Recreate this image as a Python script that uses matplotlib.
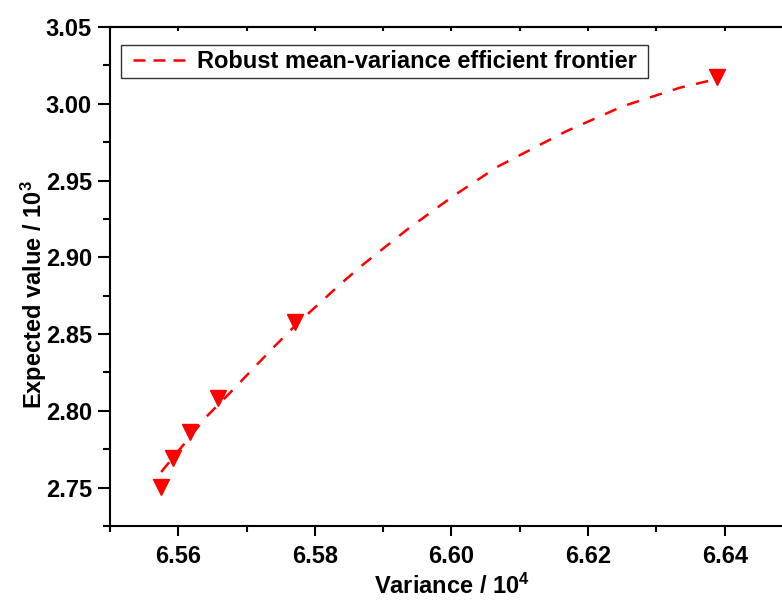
import matplotlib
matplotlib.use("Agg")
import matplotlib.pyplot as plt
from matplotlib.ticker import MultipleLocator
from matplotlib.lines import Line2D

plt.rcParams['font.family'] = ['Liberation Sans', 'DejaVu Sans']
plt.rcParams['mathtext.fontset'] = 'custom'
plt.rcParams['mathtext.bf'] = 'Liberation Sans:bold'
plt.rcParams['mathtext.rm'] = 'Liberation Sans:bold'
plt.rcParams['mathtext.default'] = 'bf'

# Marker data (variance / 1e4, expected value / 1e3)
variance = [6.5575, 6.5592, 6.5617, 6.5658, 6.5771, 6.6389]
expected = [2.7505, 2.7690, 2.7863, 2.8081, 2.8580, 3.0174]

# Fitted frontier curve
curve_x = [6.5575, 6.5641, 6.5675, 6.5738, 6.5772, 6.5836, 6.5870, 6.5936,
           6.6002, 6.6067, 6.6168, 6.6251, 6.6334, 6.6385]
curve_y = [2.7602, 2.7961, 2.8114, 2.8407, 2.8559, 2.8820, 2.8951, 2.9184,
           2.9397, 2.9589, 2.9821, 2.9984, 3.0104, 3.0158]

legend_label = "Robust mean-variance efficient frontier"
xticks = [6.56, 6.58, 6.60, 6.62, 6.64]
yticks = [2.75, 2.80, 2.85, 2.90, 2.95, 3.00, 3.05]

RED = '#ff0000'
FS = 17

fig = plt.figure(figsize=(7.82, 6.04), dpi=100)
ax = fig.add_axes([110/782, 78/604, 683/782, 499/604])

ax.plot(curve_x, curve_y, color=RED, lw=1.8, ls=(0, (5.0, 4.6)), zorder=2)
ax.plot(variance, expected, ls='none', marker='v', ms=11, color=RED,
        mec=RED, zorder=3)

ax.set_xlim(6.55, 6.65)
ax.set_ylim(2.725, 3.05)
ax.set_xticks(xticks)
ax.set_yticks(yticks)
ax.set_xticklabels([f"{v:.2f}" for v in xticks])
ax.set_yticklabels([f"{v:.2f}" for v in yticks])
ax.xaxis.set_minor_locator(MultipleLocator(0.01))
ax.yaxis.set_minor_locator(MultipleLocator(0.025))

for s in ax.spines.values():
    s.set_linewidth(1.5)

ax.xaxis.set_tick_params(which='major', bottom=True, top=False, direction='out',
                         length=7, width=1.5, labelsize=FS, pad=7)
ax.xaxis.set_tick_params(which='minor', bottom=True, top=False, direction='out',
                         length=4, width=1.5)
ax.yaxis.set_tick_params(which='major', left=True, right=False, direction='out',
                         length=9, width=1.5, labelsize=FS, pad=4)
ax.yaxis.set_tick_params(which='minor', left=True, right=False, direction='out',
                         length=5, width=1.5)

top = ax.secondary_xaxis('top')
top.set_xticks(xticks)
top.xaxis.set_minor_locator(MultipleLocator(0.01))
top.tick_params(which='both', direction='in', length=3, width=1.5, labeltop=False)
top.spines['top'].set_linewidth(1.5)

for lab in ax.get_xticklabels() + ax.get_yticklabels():
    lab.set_fontweight('bold')

ax.set_xlabel(r"Variance / 10$^{4}$", fontsize=FS, fontweight='bold', labelpad=4)
ax.set_ylabel(r"Expected value / 10$^{3}$", fontsize=FS, fontweight='bold')
ax.yaxis.set_label_coords(-0.090, 0.463)

handle = Line2D([], [], color=RED, lw=1.8, ls=(5.2, (4.8, 3.2)))
leg = ax.legend(handles=[handle], labels=[legend_label], loc='upper left',
                bbox_to_anchor=(11/683, 0, 527/683, 1 - 18/499), mode='expand',
                frameon=True, fancybox=False, edgecolor='black',
                handlelength=2.7, handletextpad=0.3, borderpad=0.22, borderaxespad=0,
                prop={'weight': 'bold', 'size': FS})
leg.get_frame().set_linewidth(1.0)

fig.savefig("out.png", dpi=100)
